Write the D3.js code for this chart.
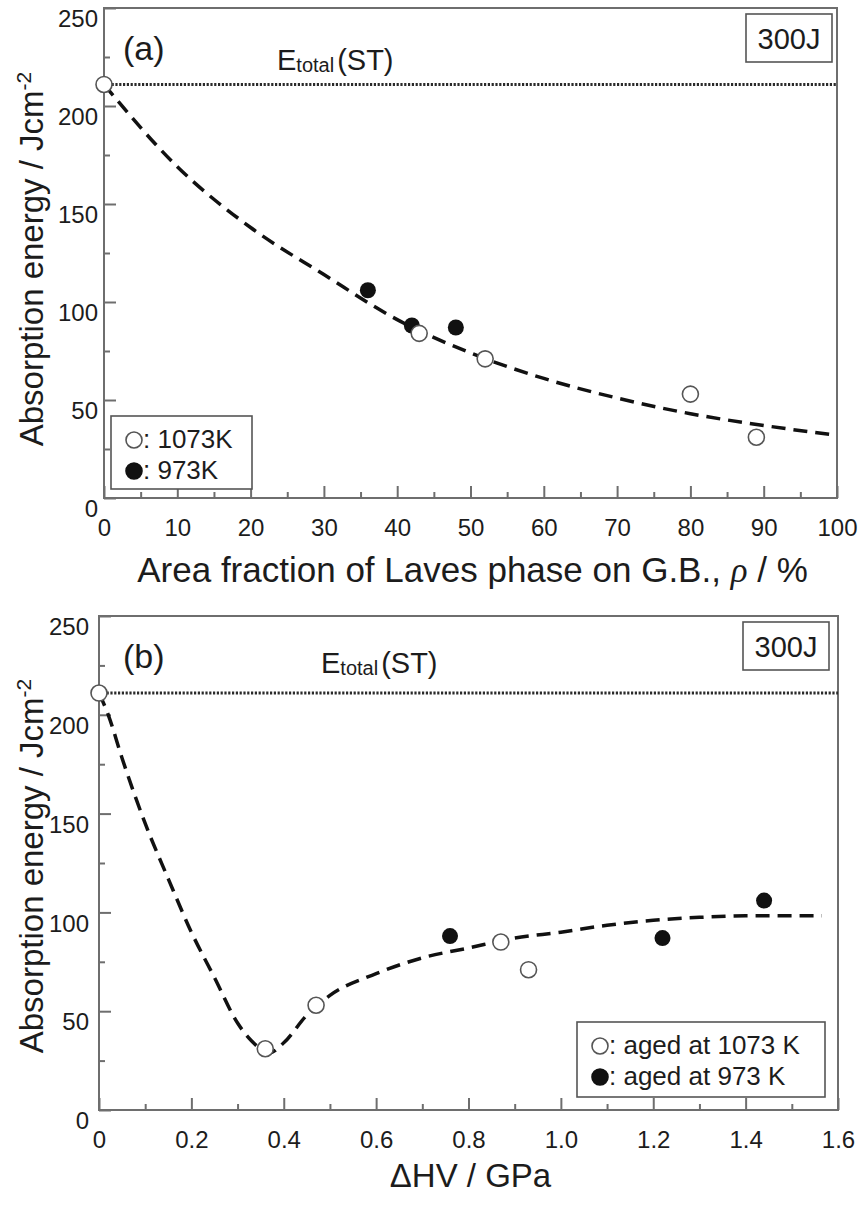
<!DOCTYPE html>
<html>
<head>
<meta charset="utf-8">
<script src="https://cdn.jsdelivr.net/npm/d3@7"></script>
<style>
  body { margin: 0; background: #fff; }
  svg text { font-family: "Liberation Sans", Arial, sans-serif; fill: #1c1c1c; }
</style>
</head>
<body>
<svg id="chart" width="863" height="1205"></svg>
<script>
// panel (a): absorption energy vs area fraction of Laves phase on G.B.
var rhoOpen = [0, 43, 52, 80, 89];          // aged at 1073 K
var rhoOpenE = [211, 84, 71, 53, 31];
var rhoFilled = [36, 42, 48];               // aged at 973 K
var rhoFilledE = [106, 88, 87];
var rhoFitX = [0, 10, 20, 30, 40, 50, 60, 70, 80, 90, 100];
var rhoFitE = [211, 169, 138, 114, 91, 74, 61, 51, 43, 37, 32];
var rhoTicks = [0, 10, 20, 30, 40, 50, 60, 70, 80, 90, 100];

// panel (b): absorption energy vs hardness increase
var hvOpen = [0, 0.36, 0.47, 0.87, 0.93];
var hvOpenE = [211, 31, 53, 85, 71];
var hvFilled = [0.76, 1.22, 1.44];
var hvFilledE = [88, 87, 106];
var hvFitX = [0, 0.02, 0.05, 0.1, 0.15, 0.2, 0.25, 0.3, 0.33, 0.37, 0.4, 0.45, 0.5, 0.6, 0.7, 0.8, 0.9, 1.0, 1.1, 1.2, 1.3, 1.4, 1.565];
var hvFitE = [211, 200, 178, 145, 117, 90, 67, 44, 35, 29, 34, 48, 58, 69, 77, 82, 87, 90, 93.5, 96, 97.5, 98.3, 98.3];
var hvTicks = [0, 0.2, 0.4, 0.6, 0.8, 1.0, 1.2, 1.4, 1.6];

var energyTicks = [0, 50, 100, 150, 200, 250];
var eTotalST = 211;

var frameColor = "#6e6e6e";
var svg = d3.select("#chart");

var panels = [
  {
    tag: "(a)", left: 104, right: 837, top: 8, bottom: 498,
    xDomain: [0, 100], xTicks: rhoTicks, xMinor: d3.range(5, 100, 10), fmt: d3.format("d"),
    open: rhoOpen, openE: rhoOpenE, filled: rhoFilled, filledE: rhoFilledE,
    fitX: rhoFitX, fitE: rhoFitE, yPad: 6,
    eLabelX: 277, eLabelY: 70, tagY: 60,
    legend: { x: 111, y: 416, w: 141, h: 73, labels: [": 1073K", ": 973K"] },
    boxRight: 5, titleY: 259, xTitleY: 582, xTitleSize: 35
  },
  {
    tag: "(b)", left: 99, right: 838, top: 616, bottom: 1110,
    xDomain: [0, 1.6], xTicks: hvTicks, xMinor: d3.range(0.1, 1.6, 0.2),
    fmt: function(d) { return d === 0 ? "0" : d3.format(".1f")(d); },
    open: hvOpen, openE: hvOpenE, filled: hvFilled, filledE: hvFilledE,
    fitX: hvFitX, fitE: hvFitE, yPad: 10,
    eLabelX: 321, eLabelY: 673, tagY: 668,
    legend: { x: 577, y: 1022, w: 248, h: 75, labels: [": aged at 1073 K", ": aged at 973 K"] },
    boxRight: 9, titleY: 866, xTitleY: 1187, xTitleSize: 33
  }
];

function styleAxis(g) {
  g.attr("font-size", null).attr("font-family", null);
  g.select(".domain").remove();
  g.selectAll("line").attr("stroke", frameColor).attr("stroke-width", 2);
}

function drawPanel(p, i) {
  var x = d3.scaleLinear().domain(p.xDomain).range([p.left, p.right]);
  var y = d3.scaleLinear().domain([0, 250]).range([p.bottom, p.top]);
  var g = svg.append("g");

  // ticks point inward
  g.append("g").attr("transform", "translate(0," + p.bottom + ")")
    .call(d3.axisBottom(x).tickValues(p.xMinor).tickSizeInner(-6).tickSizeOuter(0).tickFormat(""))
    .call(styleAxis);
  var xa = g.append("g").attr("transform", "translate(0," + p.bottom + ")")
    .call(d3.axisBottom(x).tickValues(p.xTicks).tickSizeInner(-12).tickSizeOuter(0).tickPadding(21).tickFormat(p.fmt))
    .call(styleAxis);
  xa.selectAll("text").style("font-size", "24px");

  g.append("g").attr("transform", "translate(" + p.left + ",0)")
    .call(d3.axisLeft(y).tickValues(d3.range(25, 250, 50)).tickSizeInner(-6).tickSizeOuter(0).tickFormat(""))
    .call(styleAxis);
  var ya = g.append("g").attr("transform", "translate(" + p.left + ",0)")
    .call(d3.axisLeft(y).tickValues(energyTicks).tickSizeInner(-12).tickSizeOuter(0).tickPadding(p.yPad))
    .call(styleAxis);
  ya.selectAll("text").style("font-size", "24px").attr("y", 11);

  g.append("rect")
    .attr("x", p.left).attr("y", p.top)
    .attr("width", p.right - p.left).attr("height", p.bottom - p.top)
    .attr("fill", "none").attr("stroke", frameColor).attr("stroke-width", 2);

  // E_total(ST) reference line
  g.append("line")
    .attr("x1", x(0)).attr("x2", p.right)
    .attr("y1", y(eTotalST)).attr("y2", y(eTotalST))
    .attr("stroke", "#2a2a2a").attr("stroke-width", 3).attr("stroke-dasharray", "2.2,1.6");

  var fit = d3.line().curve(d3.curveMonotoneX)
    .x(function(d) { return x(d[0]); })
    .y(function(d) { return y(d[1]); });
  g.append("path")
    .attr("d", fit(d3.zip(p.fitX, p.fitE)))
    .attr("fill", "none").attr("stroke", "#111").attr("stroke-width", 3.5)
    .attr("stroke-dasharray", "14,8");

  g.selectAll(".filled").data(d3.zip(p.filled, p.filledE)).join("circle")
    .attr("cx", function(d) { return x(d[0]); })
    .attr("cy", function(d) { return y(d[1]); })
    .attr("r", 8).attr("fill", "#111");
  g.selectAll(".open").data(d3.zip(p.open, p.openE)).join("circle")
    .attr("cx", function(d) { return x(d[0]); })
    .attr("cy", function(d) { return y(d[1]); })
    .attr("r", 8).attr("fill", "#fff").attr("stroke", "#555").attr("stroke-width", 1.6);

  // legend
  var L = p.legend;
  g.append("rect").attr("x", L.x).attr("y", L.y).attr("width", L.w).attr("height", L.h)
    .attr("fill", "#fff").attr("stroke", "#555").attr("stroke-width", 1.6);
  L.labels.forEach(function(t, k) {
    var cy = L.y + 24 + k * 31;
    g.append("circle").attr("cx", L.x + 23).attr("cy", cy).attr("r", 8)
      .attr("fill", k === 0 ? "#fff" : "#111")
      .attr("stroke", k === 0 ? "#555" : "#111").attr("stroke-width", 1.6);
    g.append("text").attr("x", L.x + 32).attr("y", cy + 8)
      .style("font-size", "26px").text(t);
  });

  // 300J box
  g.append("rect").attr("x", p.right - p.boxRight - 86).attr("y", p.top + 6)
    .attr("width", 86).attr("height", 48)
    .attr("fill", "#fff").attr("stroke", "#555").attr("stroke-width", 1.6);
  g.append("text").attr("x", p.right - p.boxRight - 43).attr("y", p.top + 41)
    .attr("text-anchor", "middle").style("font-size", "29px").text("300J");

  g.append("text").attr("x", p.left + (i === 0 ? 19 : 24)).attr("y", p.tagY)
    .style("font-size", "34px").text(p.tag);

  var et = g.append("text").attr("x", p.eLabelX).attr("y", p.eLabelY).style("font-size", "29px");
  et.append("tspan").text("E");
  et.append("tspan").attr("dy", 2).style("font-size", "20px").text("total");
  et.append("tspan").attr("dy", -2).attr("dx", 3).text("(ST)");

  // axis titles
  var yt = g.append("text")
    .attr("transform", "translate(43," + p.titleY + ") rotate(-90)")
    .attr("text-anchor", "middle").style("font-size", "33px");
  yt.append("tspan").text("Absorption energy / Jcm");
  yt.append("tspan").attr("dy", -12).style("font-size", "21px").text("-2");

  var xt = g.append("text").attr("x", (p.left + p.right) / 2 + 2).attr("y", p.xTitleY)
    .attr("text-anchor", "middle").style("font-size", p.xTitleSize + "px");
  if (i === 0) {
    xt.append("tspan").text("Area fraction of Laves phase on G.B., ");
    xt.append("tspan").style("font-family", "'Liberation Serif', 'Times New Roman', serif")
      .style("font-style", "italic").text("\u03c1");
    xt.append("tspan").text(" / %");
  } else {
    xt.text("\u0394HV / GPa");
  }
}

panels.forEach(drawPanel);
</script>
</body>
</html>
